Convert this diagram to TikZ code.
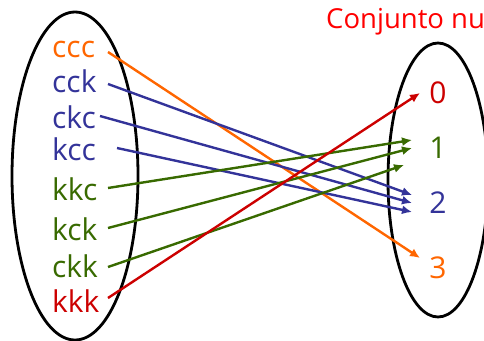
\documentclass[tikz,border=0pt]{standalone}
\usepackage{fontspec}
\setmainfont{Open Sans}
\usetikzlibrary{arrows.meta}
\definecolor{corange}{RGB}{255,102,0}
\definecolor{cblue}{RGB}{51,51,153}
\definecolor{cgreen}{RGB}{56,106,0}
\definecolor{cred}{RGB}{204,0,0}
\definecolor{ctitle}{RGB}{255,0,0}
\begin{document}
\begin{tikzpicture}[x=1pt,y=-1pt,
  setline/.style={draw=black,line width=2.8pt},
  elem/.style={anchor=base west,inner sep=0pt,font=\fontsize{30}{30}\selectfont},
  num/.style={anchor=base,inner sep=0pt,font=\fontsize{30}{30}\selectfont},
  maparrow/.style={line width=2.4pt,-{Latex[length=10pt,width=9pt]}}]
\useasboundingbox (0,0) rectangle (484,340);
\begin{scope}
\clip (0,0) rectangle (484,340);
% the two sets
\draw[setline] (75,176) ellipse [x radius=63,y radius=164];
\draw[setline] (438,180) ellipse [x radius=50,y radius=137];
\node[anchor=base west,inner sep=0pt,text=ctitle,font=\fontsize{27.5}{27.5}\selectfont] (title) at (326,28) {Conjunto nu};
\end{scope}
% domain elements
\node[elem,text=corange] (ccc) at (52,57) {ccc};
\node[elem,text=cblue] (cck) at (52,92) {cck};
\node[elem,text=cblue] (ckc) at (52,128) {ckc};
\node[elem,text=cblue] (kcc) at (52,160) {kcc};
\node[elem,text=cgreen] (kkc) at (52,200) {kkc};
\node[elem,text=cgreen] (kck) at (52,240) {kck};
\node[elem,text=cgreen] (ckk) at (52,277) {ckk};
\node[elem,text=cred] (kkk) at (52,312) {kkk};
% codomain values
\node[num,text=cred] (n0) at (438,103) {0};
\node[num,text=cgreen] (n1) at (438,158) {1};
\node[num,text=cblue] (n2) at (438,213) {2};
\node[num,text=corange] (n3) at (438,278) {3};
% arrow end points
\coordinate (sccc) at (108,52);
\coordinate (scck) at (108,84);
\coordinate (sckc) at (100,116);
\coordinate (skcc) at (117,148);
\coordinate (skkc) at (108,188);
\coordinate (skck) at (108,228);
\coordinate (sckk) at (108,267);
\coordinate (skkk) at (108,298);
\coordinate (t0) at (420,93);
\coordinate (t1a) at (412,140);
\coordinate (t1b) at (412,148);
\coordinate (t1c) at (404,165);
\coordinate (t2a) at (412,195);
\coordinate (t2b) at (412,203);
\coordinate (t2c) at (412,212);
\coordinate (t3) at (420,258);
% mapping
\draw[maparrow,corange] (sccc) -- (t3);
\draw[maparrow,cblue] (scck) -- (t2a);
\draw[maparrow,cblue] (sckc) -- (t2b);
\draw[maparrow,cblue] (skcc) -- (t2c);
\draw[maparrow,cgreen] (skkc) -- (t1a);
\draw[maparrow,cgreen] (skck) -- (t1b);
\draw[maparrow,cgreen] (sckk) -- (t1c);
\draw[maparrow,cred] (skkk) -- (t0);
\end{tikzpicture}
\end{document}
